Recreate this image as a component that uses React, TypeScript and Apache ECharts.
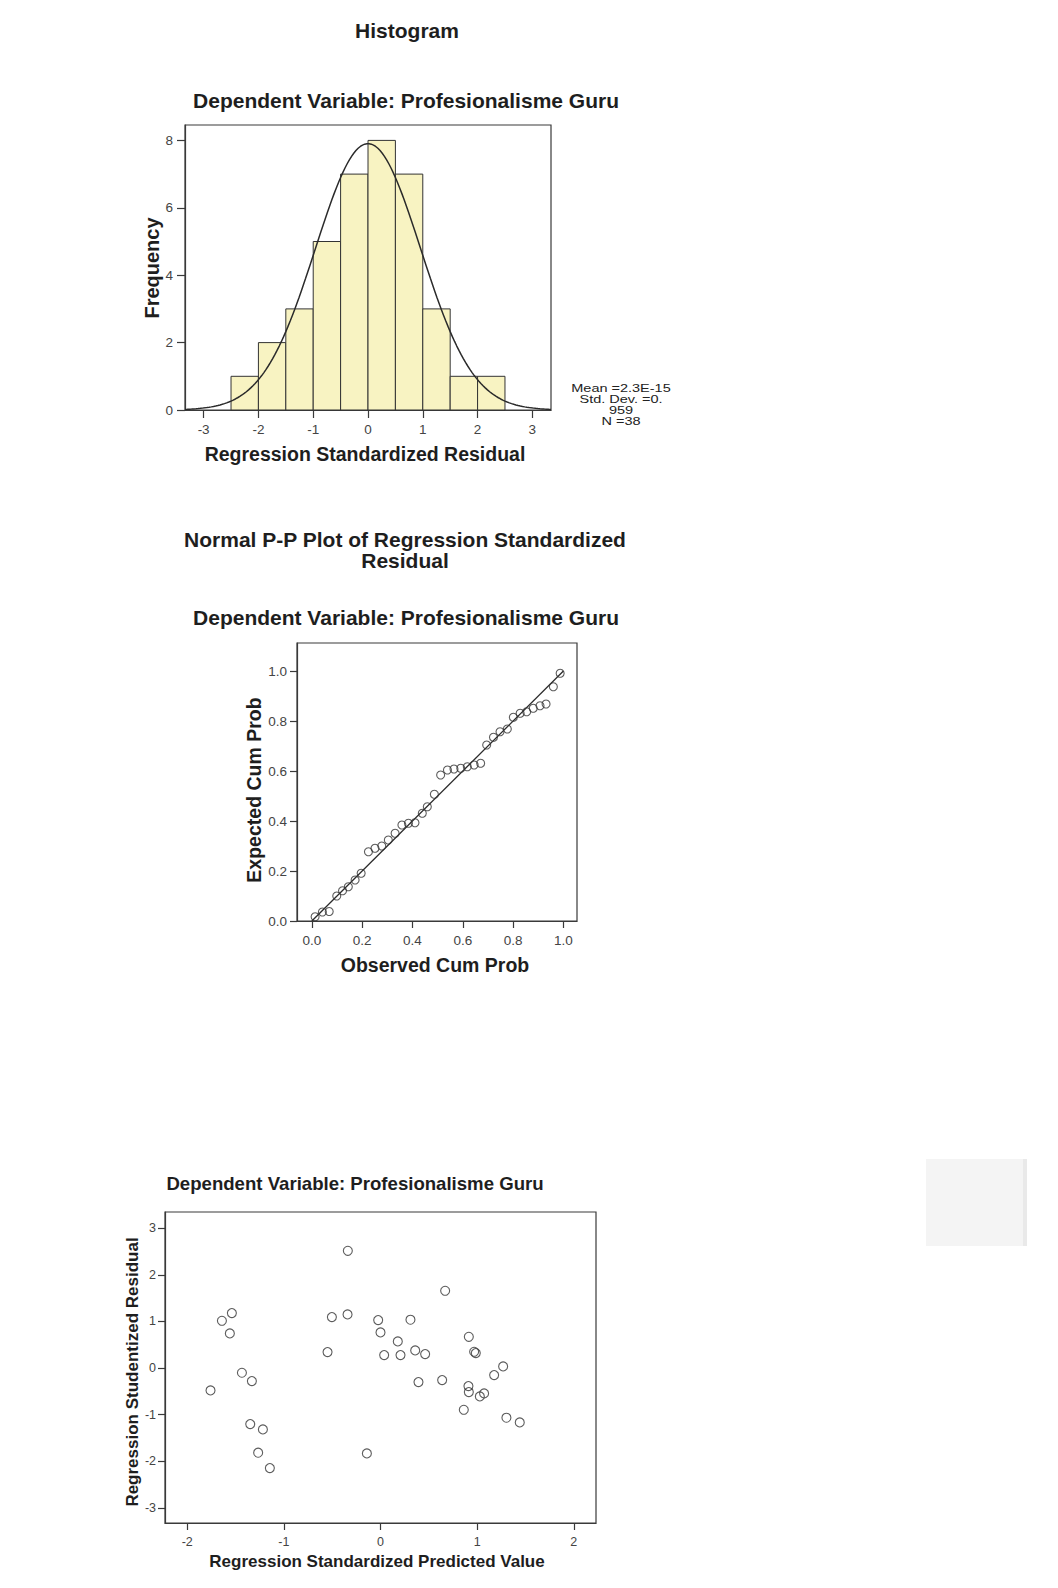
import React, { useEffect, useRef } from "react";
import * as echarts from "echarts";

// ---------- Histogram data ----------
const histBinStarts = [-2.5, -2, -1.5, -1, -0.5, 0, 0.5, 1, 1.5, 2];
const histBinWidth = 0.5;
const histCounts = [1, 2, 3, 5, 7, 8, 7, 3, 1, 1];
const residualMean = 2.3e-15;
const residualSd = 0.959;
const residualN = 38;
const histXTicks = [-3, -2, -1, 0, 1, 2, 3];
const histYTicks = [0, 2, 4, 6, 8];
const statsLines = ["Mean =2.3E-15", "Std. Dev. =0.", "959", "N =38"];

// ---------- P-P plot data ----------
const ppObserved = [
  0.013, 0.042, 0.069, 0.099, 0.122, 0.145, 0.172, 0.196, 0.225, 0.251,
  0.278, 0.304, 0.331, 0.358, 0.384, 0.41, 0.439, 0.459, 0.487, 0.512,
  0.539, 0.565, 0.592, 0.618, 0.645, 0.671, 0.695, 0.722, 0.748, 0.777,
  0.801, 0.828, 0.854, 0.88, 0.907, 0.931, 0.96, 0.987,
];
const ppExpected = [
  0.017, 0.036, 0.038, 0.1, 0.121, 0.137, 0.164, 0.191, 0.277, 0.291,
  0.3, 0.324, 0.351, 0.384, 0.391, 0.393, 0.431, 0.457, 0.507, 0.584,
  0.604, 0.608, 0.611, 0.617, 0.624, 0.631, 0.704, 0.735, 0.757, 0.768,
  0.815, 0.831, 0.837, 0.851, 0.861, 0.868, 0.937, 0.991,
];
const ppTicks = [0, 0.2, 0.4, 0.6, 0.8, 1.0];

// ---------- Scatter data ----------
const scatterPredicted = [
  -1.759, -1.641, -1.538, -1.559, -1.434, -1.331, -1.348, -1.217, -1.266, -1.145,
  -0.548, -0.503, -0.341, -0.338, -0.141, -0.024, 0.0, 0.038, 0.179, 0.207,
  0.31, 0.359, 0.462, 0.393, 0.638, 0.669, 0.914, 0.969, 0.986, 0.91,
  0.914, 0.862, 1.028, 1.072, 1.176, 1.269, 1.303, 1.441,
];
const scatterStudentized = [
  -0.479, 1.014, 1.179, 0.743, -0.1, -0.279, -1.2, -1.314, -1.814, -2.143,
  0.343, 1.093, 1.15, 2.514, -1.829, 1.029, 0.764, 0.279, 0.571, 0.279,
  1.036, 0.379, 0.3, -0.3, -0.257, 1.657, 0.671, 0.35, 0.321, -0.386,
  -0.514, -0.893, -0.607, -0.543, -0.15, 0.036, -1.064, -1.164,
];
const scatterXTicks = [-2, -1, 0, 1, 2];
const scatterYTicks = [-3, -2, -1, 0, 1, 2, 3];

const FONT = "'Liberation Sans', Arial, Helvetica, sans-serif";
const AXIS_COLOR = "#3a3a3a";
const LABEL_COLOR = "#444";
const TITLE_COLOR = "#1e1e1e";

function valueAxis(gridIndex: number, min: number, max: number, ticks: number[], opts: any = {}) {
  return {
    type: "value",
    gridIndex,
    min,
    max,
    splitLine: { show: false },
    axisLine: { show: true, onZero: false, lineStyle: { color: AXIS_COLOR, width: 1.2 } },
    axisTick: {
      show: true,
      customValues: ticks,
      length: opts.tickLen ?? 7,
      lineStyle: { color: AXIS_COLOR, width: 1.2 },
    },
    axisLabel: {
      show: true,
      customValues: ticks,
      margin: opts.margin ?? 11,
      color: LABEL_COLOR,
      fontFamily: FONT,
      fontSize: opts.fontSize ?? 13.5,
      formatter: opts.formatter,
    },
  };
}

function text(x: number, y: number, str: string, size: number, extra: any = {}) {
  return {
    type: "text",
    x,
    y,
    rotation: extra.rotation ?? 0,
    scaleX: extra.scaleX ?? 1,
    z: 10,
    style: {
      text: str,
      fill: extra.fill ?? TITLE_COLOR,
      font: `${extra.weight ?? "bold"} ${size}px ${FONT}`,
      textAlign: "center",
      textVerticalAlign: "middle",
    },
  };
}

export default function App() {
  const ref = useRef<HTMLDivElement>(null);

  useEffect(() => {
    if (!ref.current) return;
    const chart = echarts.init(ref.current, undefined, { renderer: "svg" });

    // Fitted normal curve from the stated mean / std. dev. (scaled to counts)
    const curve: number[][] = [];
    for (let x = -3.34; x <= 3.3401; x += 0.04) {
      const z = (x - residualMean) / residualSd;
      const dens = Math.exp(-0.5 * z * z) / (residualSd * Math.sqrt(2 * Math.PI));
      curve.push([x, residualN * histBinWidth * dens]);
    }

    const fmt1 = (v: number) => v.toFixed(1);

    const option: any = {
      animation: false,
      backgroundColor: "#ffffff",
      grid: [
        { left: 185, top: 125, width: 366, height: 285, show: true, borderColor: AXIS_COLOR, borderWidth: 1.2, backgroundColor: "transparent" },
        { left: 297, top: 643, width: 280, height: 278, show: true, borderColor: AXIS_COLOR, borderWidth: 1.2, backgroundColor: "transparent" },
        { left: 165, top: 1212, width: 431, height: 311, show: true, borderColor: AXIS_COLOR, borderWidth: 1.2, backgroundColor: "transparent" },
      ],
      xAxis: [
        valueAxis(0, -3.34, 3.34, histXTicks, { tickLen: 8, margin: 12 }),
        valueAxis(1, -0.059, 1.054, ppTicks, { tickLen: 7, margin: 12, formatter: fmt1 }),
        valueAxis(2, -2.23, 2.23, scatterXTicks, { tickLen: 7, margin: 12, fontSize: 12.5 }),
      ],
      yAxis: [
        valueAxis(0, 0, 8.457, histYTicks, { tickLen: 8, margin: 12 }),
        valueAxis(1, 0, 1.112, ppTicks, { tickLen: 7, margin: 10, formatter: fmt1 }),
        valueAxis(2, -3.32, 3.345, scatterYTicks, { tickLen: 7, margin: 9, fontSize: 12.5 }),
      ],
      series: [
        {
          type: "custom",
          xAxisIndex: 0,
          yAxisIndex: 0,
          data: histBinStarts.map((s, i) => [s, s + histBinWidth, histCounts[i]]),
          encode: { x: [0, 1], y: 2 },
          renderItem: (_params: any, api: any) => {
            const p0 = api.coord([api.value(0), api.value(2)]);
            const p1 = api.coord([api.value(1), 0]);
            return {
              type: "rect",
              shape: { x: p0[0], y: p0[1], width: p1[0] - p0[0], height: p1[1] - p0[1] },
              style: { fill: "#f8f3c2", stroke: "#333", lineWidth: 1 },
            };
          },
          z: 2,
        },
        {
          type: "line",
          xAxisIndex: 0,
          yAxisIndex: 0,
          data: curve,
          showSymbol: false,
          smooth: false,
          lineStyle: { color: "#2b2b2b", width: 1.5 },
          z: 3,
        },
        {
          type: "line",
          xAxisIndex: 1,
          yAxisIndex: 1,
          data: [[0, 0], [1, 1]],
          showSymbol: false,
          lineStyle: { color: "#2b2b2b", width: 1.3 },
          z: 2,
        },
        {
          type: "scatter",
          xAxisIndex: 1,
          yAxisIndex: 1,
          data: ppObserved.map((v, i) => [v, ppExpected[i]]),
          symbol: "circle",
          symbolSize: 8,
          itemStyle: { color: "rgba(0,0,0,0)", borderColor: "#333", borderWidth: 1.1 },
          z: 3,
        },
        {
          type: "scatter",
          xAxisIndex: 2,
          yAxisIndex: 2,
          data: scatterPredicted.map((v, i) => [v, scatterStudentized[i]]),
          symbol: "circle",
          symbolSize: 9,
          itemStyle: { color: "rgba(0,0,0,0)", borderColor: "#333", borderWidth: 1.1 },
          z: 3,
        },
      ],
      graphic: [
        text(407, 30, "Histogram", 21),
        text(406, 100, "Dependent Variable: Profesionalisme Guru", 21),
        text(152, 268, "Frequency", 20, { rotation: Math.PI / 2 }),
        text(365, 454, "Regression Standardized Residual", 19.5),
        ...statsLines.map((s, i) =>
          text(621, 389 + i * 10.8, s, 10.5, { weight: "normal", scaleX: 1.38, fill: "#222" })
        ),
        text(405, 539, "Normal P-P Plot of Regression Standardized", 21),
        text(405, 560, "Residual", 21),
        text(406, 617, "Dependent Variable: Profesionalisme Guru", 21),
        text(254, 790, "Expected Cum Prob", 19.5, { rotation: Math.PI / 2 }),
        text(435, 965, "Observed Cum Prob", 19.5),
        text(355, 1183, "Dependent Variable: Profesionalisme Guru", 18.6),
        text(132, 1372, "Regression Studentized Residual", 17, { rotation: Math.PI / 2 }),
        text(377, 1561, "Regression Standardized Predicted Value", 17),
        {
          type: "rect",
          shape: { x: 926, y: 1159, width: 101, height: 87 },
          style: { fill: "#f4f4f4", stroke: "none" },
        },
        {
          type: "rect",
          shape: { x: 1023, y: 1159, width: 4, height: 87 },
          style: { fill: "#e9e9e9", stroke: "none" },
        },
      ],
    };

    chart.setOption(option);
    return () => chart.dispose();
  }, []);

  return (
    <div
      ref={ref}
      style={{ position: "absolute", left: 0, top: 0, width: 1058, height: 1588 }}
    />
  );
}
